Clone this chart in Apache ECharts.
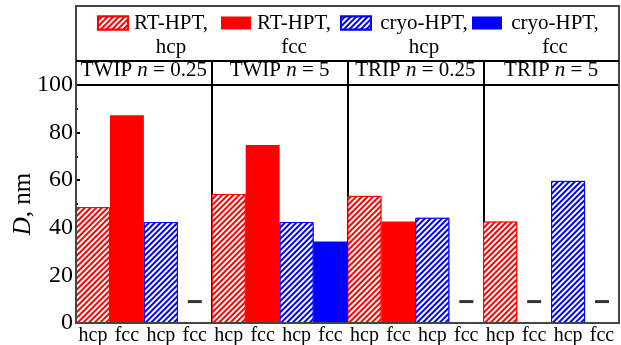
<!DOCTYPE html>
<html>
<head>
<meta charset="utf-8">
<script src="https://cdn.jsdelivr.net/npm/echarts@6/dist/echarts.min.js"></script>
<style>html,body{margin:0;padding:0;background:#fff}#c{width:621px;height:345px}</style>
</head>
<body>
<div id="c"></div>
<script>
// ---- data ----
const phases = ['hcp', 'fcc', 'hcp', 'fcc'];
const panels = ['TWIP n = 0.25', 'TWIP n = 5', 'TRIP n = 0.25', 'TRIP n = 5'];
const seriesNames = ['RT-HPT,\nhcp', 'RT-HPT,\nfcc', 'cryo-HPT,\nhcp', 'cryo-HPT,\nfcc'];
const rtHcp = [48.7, 54.2, 53.4, 42.6];
const rtFcc = [87.3, 74.8, 42.6, null];
const cryoHcp = [42.4, 42.4, 44.2, 59.7];
const cryoFcc = [null, 34.2, null, null];
const notDetectedLevel = 9;
const yTicks = [0, 20, 40, 60, 80, 100];

const allSeries = [rtHcp, rtFcc, cryoHcp, cryoFcc];
const categories = [];
panels.forEach(() => phases.forEach(p => categories.push(p)));

const FONT = 'Liberation Serif';
const RED = '#ff0000', BLUE = '#0000ff';
const colors = [RED, RED, BLUE, BLUE];
const hatched = [true, false, true, false];

function hatch() {
  return { symbol: 'rect', symbolSize: 1, color: '#ffffff',
           dashArrayX: [1, 0], dashArrayY: [2, 2], rotation: -Math.PI / 4 };
}

const series = allSeries.map((arr, k) => {
  const data = categories.map(() => '-');
  arr.forEach((v, p) => { if (v != null) data[p * 4 + k] = v; });
  const itemStyle = { color: colors[k], borderColor: colors[k], borderWidth: hatched[k] ? 1 : 0 };
  if (hatched[k]) itemStyle.decal = hatch();
  return {
    name: seriesNames[k], type: 'bar', barWidth: '100%', barGap: '-100%',
    xAxisIndex: 0, yAxisIndex: 0, data: data, itemStyle: itemStyle
  };
});
const dashData = [];
allSeries.forEach((arr, k) => arr.forEach((v, p) => { if (v == null) dashData.push([p * 4 + k, notDetectedLevel]); }));
series.push({ type: 'scatter', symbol: 'rect', symbolSize: [14, 3], data: dashData,
  itemStyle: { color: '#000' }, z: 5, silent: true });

function legendFor(k, left, w) {
  return {
    data: [seriesNames[k]], left: left, top: 12.5, padding: 0,
    itemWidth: 30, itemHeight: 13, icon: 'rect', selectedMode: false,
    formatter: n => n.split('\n').map(s => '{a|' + s + '}').join('\n'),
    textStyle: { padding: [24, 0, 0, 0], fontFamily: FONT, fontSize: 21, color: '#000',
      rich: { a: { width: w, align: 'center', lineHeight: 24, fontFamily: FONT, fontSize: 21, color: '#000' } } }
  };
}

const chart = echarts.init(document.getElementById('c'), null, { renderer: 'canvas' });
chart.setOption({
  animation: false,
  backgroundColor: '#fff',
  textStyle: { fontFamily: FONT },
  grid: { left: 76, right: 2, top: 85, bottom: 22, containLabel: false, outerBoundsMode: 'none' },
  legend: [legendFor(0, 97, 76), legendFor(1, 221, 76), legendFor(2, 340, 96), legendFor(3, 472, 96)],
  xAxis: [{
    type: 'category', data: categories, position: 'bottom',
    axisLine: { show: true, lineStyle: { color: '#000', width: 2 } },
    axisTick: { show: false },
    axisLabel: { interval: 0, margin: 3, fontFamily: FONT, fontSize: 20, color: '#000' },
    splitLine: { show: false }
  }, {
    type: 'category', data: panels, position: 'top', boundaryGap: true,
    axisLine: { show: true, lineStyle: { color: '#000', width: 2 } },
    axisTick: { show: true, inside: false, length: 24, interval: 0, lineStyle: { color: '#000', width: 2 } },
    splitLine: { show: true, interval: 0, lineStyle: { color: '#000', width: 2 } },
    axisLabel: { interval: 0, margin: 4, fontFamily: FONT, fontSize: 21, color: '#000',
      formatter: v => v.replace(' n ', ' {i|n} '),
      rich: { i: { fontStyle: 'italic', fontFamily: FONT, fontSize: 21, color: '#000' } } }
  }],
  yAxis: {
    type: 'value', min: yTicks[0], max: yTicks[yTicks.length - 1], interval: yTicks[1] - yTicks[0],
    name: '{i|D}, nm', nameLocation: 'middle', nameGap: 40, nameMoveOverlap: false,
    nameTextStyle: { fontFamily: FONT, fontSize: 25, color: '#000',
      rich: { i: { fontStyle: 'italic', fontFamily: FONT, fontSize: 25, color: '#000' } } },
    axisLine: { show: true, lineStyle: { color: '#333', width: 2 } },
    axisTick: { show: true, inside: true, length: 4, lineStyle: { color: '#000', width: 2 } },
    minorTick: { show: true, splitNumber: 2, length: 2, lineStyle: { color: '#000', width: 2 } },
    splitLine: { show: false },
    axisLabel: { margin: 3, fontFamily: FONT, fontSize: 24, color: '#000' }
  },
  graphic: [
    { type: 'rect', shape: { x: 76, y: 6, width: 543, height: 317 }, style: { fill: null, stroke: '#444', lineWidth: 2 }, z: 100, silent: true },
    { type: 'line', shape: { x1: 76, y1: 61, x2: 619, y2: 61 }, style: { stroke: '#000', lineWidth: 2 }, z: 100, silent: true }
  ],
  series: series
});
</script>
</body>
</html>
